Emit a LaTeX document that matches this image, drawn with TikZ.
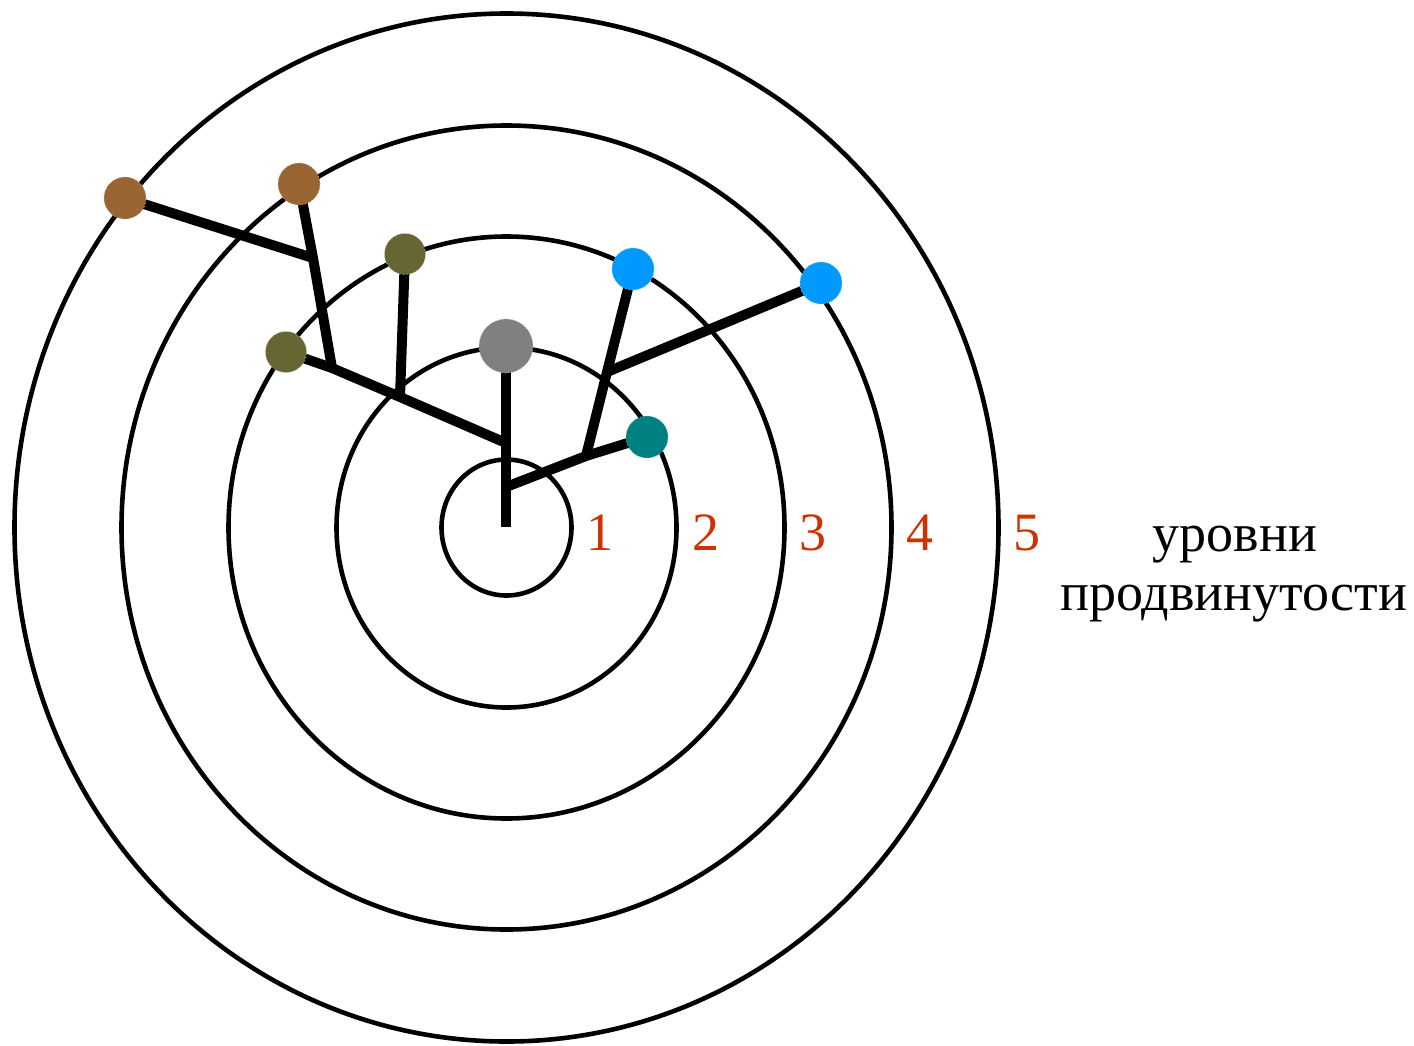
\documentclass[tikz,border=0pt]{standalone}
\usepackage{fontspec}
\setmainfont{Liberation Serif}
\usetikzlibrary{backgrounds}
\definecolor{cgray}{RGB}{128,128,128}
\definecolor{cteal}{RGB}{0,128,128}
\definecolor{cblue}{RGB}{0,153,255}
\definecolor{colive}{RGB}{102,102,51}
\definecolor{cbrown}{RGB}{153,102,51}
\definecolor{clabel}{RGB}{204,51,0}
\tikzset{
  ring/.style={draw=black, line width=4.6pt},
  edge/.style={draw=black, line width=10pt, line cap=butt, line join=miter},
  dot/.style={circle, fill=#1, draw=#1!55!white, line width=0.8pt, dash pattern=on 1pt off 2.5pt, inner sep=0pt, minimum size=42pt},
  lvl/.style={text=clabel, font=\fontsize{54}{60}\selectfont, inner sep=0pt, anchor=base},
  caption/.style={font=\fontsize{54}{64}\selectfont, inner sep=0pt, anchor=base}
}
\begin{document}
\begin{tikzpicture}[x=1pt, y=-1pt]
\useasboundingbox (0,0) rectangle (1414,1045);
\coordinate (c) at (506.5,527.5);
% nodes
\node[dot=cgray, minimum size=54pt] (gray) at (506,346) {};
\node[dot=cteal] (teal) at (647,437) {};
\node[dot=cblue] (blue1) at (633,269) {};
\node[dot=cblue] (blue2) at (821,283) {};
\node[dot=colive, minimum size=41pt] (olive1) at (405,254) {};
\node[dot=colive, minimum size=41pt] (olive2) at (286,352) {};
\node[dot=cbrown] (brown1) at (299,184) {};
\node[dot=cbrown] (brown2) at (125,198) {};
% junctions
\coordinate (root) at (506,527);
\coordinate (j1) at (506,487);
\coordinate (j2) at (506,443);
\coordinate (j3) at (586,456);
\coordinate (j4) at (607,372);
\coordinate (j5) at (400,397);
\coordinate (j6) at (332,368);
\coordinate (j7) at (313,258);
\begin{scope}[on background layer]
  \draw[ring] (c) ellipse [x radius=492, y radius=514];
  \draw[ring] (c) ellipse [x radius=385, y radius=402];
  \draw[ring] (c) ellipse [x radius=278, y radius=291];
  \draw[ring] (c) ellipse [x radius=170, y radius=180];
  \draw[ring] (c) ellipse [x radius=65, y radius=68];
  \draw[edge] (root) -- (gray.center);
  \draw[edge] (j1) -- (j3) -- (teal.center);
  \draw[edge] (j3) -- (j4) -- (blue1.center);
  \draw[edge] (j4) -- (blue2.center);
  \draw[edge] (j2) -- (j5) -- (j6) -- (olive2.center);
  \draw[edge] (j5) -- (olive1.center);
  \draw[edge] (j6) -- (j7) -- (brown1.center);
  \draw[edge] (j7) -- (brown2.center);
\end{scope}
% level labels
\node[lvl] (l1) at (600,550) {1};
\node[lvl] (l2) at (706,550) {2};
\node[lvl] (l3) at (813,550) {3};
\node[lvl] (l4) at (920,550) {4};
\node[lvl] (l5) at (1027,550) {5};
\node[caption] (t1) at (1235,551) {уровни};
\node[caption] (t2) at (1234,610) {продвинутости};
\end{tikzpicture}
\end{document}
